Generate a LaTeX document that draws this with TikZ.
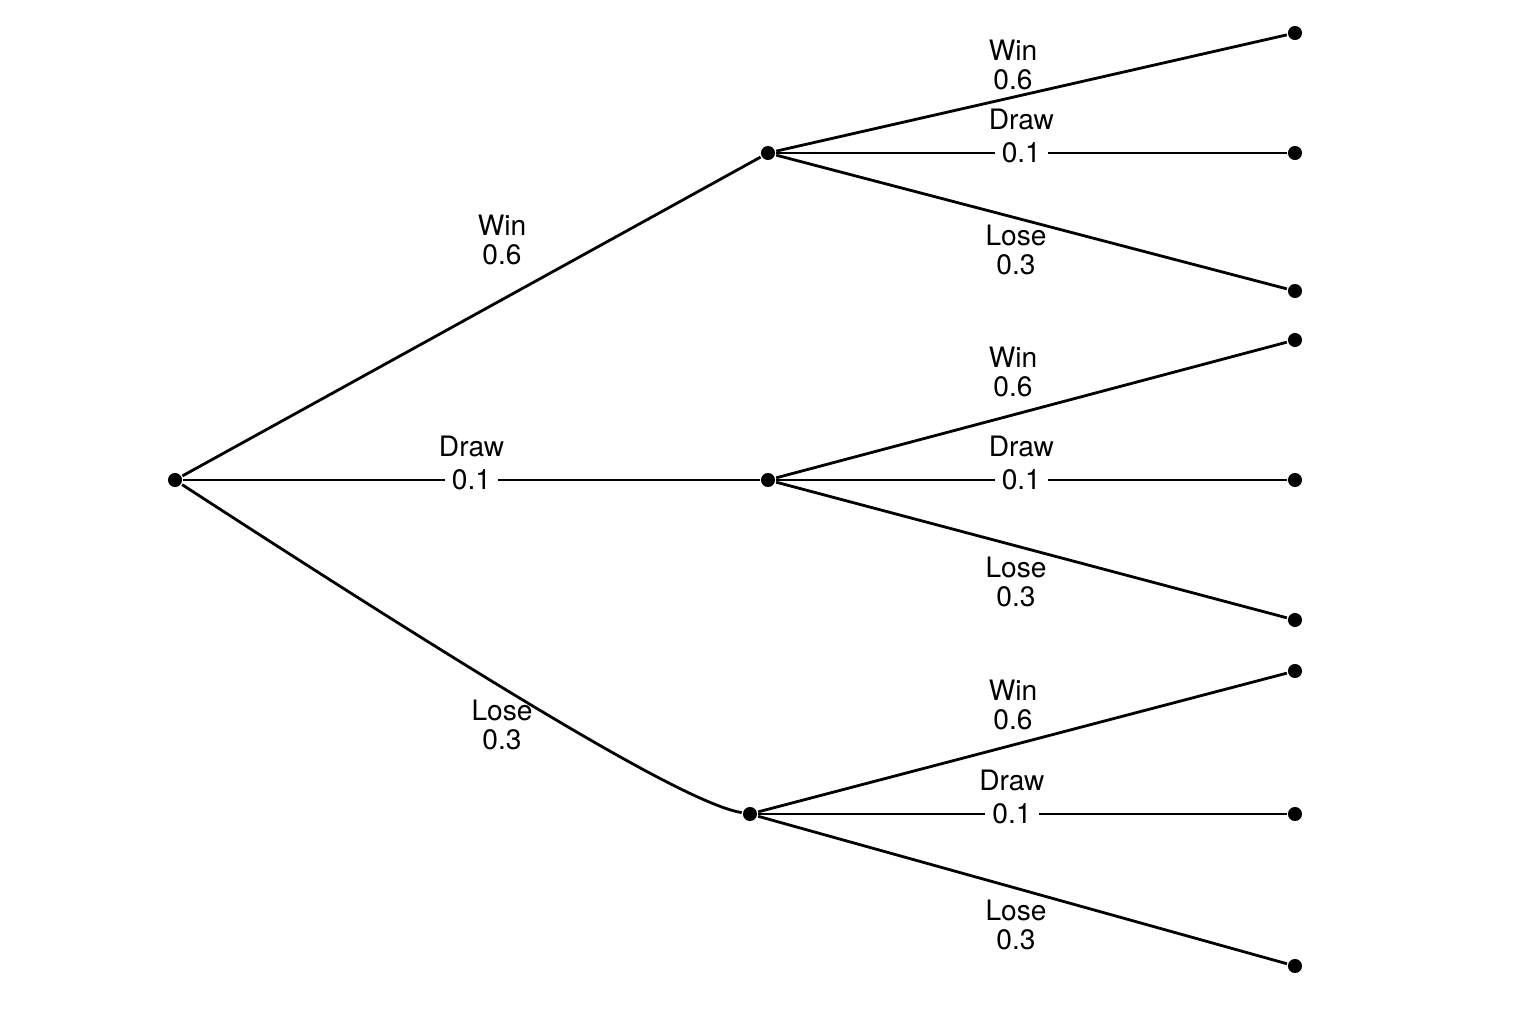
\documentclass[tikz,border=0pt]{standalone}
\usepackage{fontspec}
\setmainfont{TeX Gyre Heros}
\usetikzlibrary{positioning,calc}

\begin{document}
\begin{tikzpicture}[thick,
	dot/.style={circle,fill=black,inner sep=0pt,minimum size=4pt},
	lab/.style={align=center,font=\fontsize{8}{8.5}\selectfont,inner sep=1pt},
	mid/.style={fill=white,font=\fontsize{8}{8.5}\selectfont,inner sep=2pt}]

\useasboundingbox (0,0) rectangle (15.36,10.24);

% nodes
\node[dot] (root) at (1.75,5.44) {};
\node[dot] (win)  at (7.68,8.71) {};
\node[dot] (draw) at (7.68,5.44) {};
\node[dot] (lose) at (7.50,2.10) {};

\foreach \n/\y in {ww/9.91,wd/8.71,wl/7.33,dw/6.84,dd/5.44,dl/4.04,lw/3.53,ld/2.10,ll/0.58}{
	\node[dot] (\n) at (12.95,\y) {};
}

% first round
\draw (root) -- (win);
\draw (root) -- node[mid] (rd) {0.1} (draw);
\draw (root) .. controls (5.2,3.2) and (6.9,2.2) .. (lose);

\node[lab] at (5.02,9.84-0.0-0.0) [yshift=-2.0cm] {Win\\0.6};
\node[lab,above=0pt of rd] {Draw};
\node[lab] at (5.02,2.99) {Lose\\0.3};

% second round
\foreach \p/\w/\d/\l/\wy/\dx/\ly in {win/ww/wd/wl/9.59/10.20/7.74,draw/dw/dd/dl/6.52/10.20/4.42,lose/lw/ld/ll/3.19/10.20/0.99}{
	\draw (\p) -- (\w);
	\draw (\p) -- (\l);
	\draw (\p) -- node[mid,pos=0.48] (m\p) {0.1} (\d);
	\node[lab,above=0pt of m\p] {Draw};
	\node[lab] at (10.13,\wy) {Win\\0.6};
	\node[lab] at (10.16,\ly) {Lose\\0.3};
}

\end{tikzpicture}
\end{document}
